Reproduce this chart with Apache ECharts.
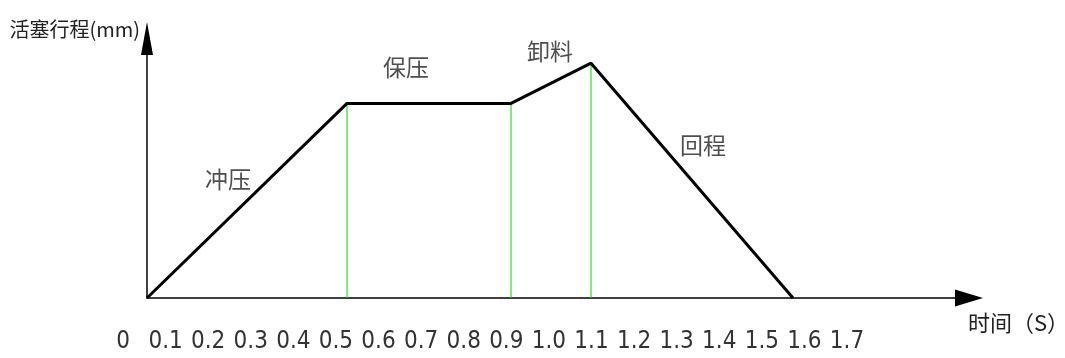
<!DOCTYPE html>
<html><head><meta charset="utf-8">
<script src="https://cdn.jsdelivr.net/npm/echarts@6/dist/echarts.min.js"></script>
<style>html,body{margin:0;padding:0;background:#fff}#c{width:1065px;height:358px}</style>
</head><body><div id="c"></div>
<script>
// ---- data ----
const timeValues = [0, 0.5, 0.91, 1.11, 1.615];      // s
const strokeValues = [0, 150, 150, 181, 0];          // mm (relative)
const phaseNames = ['冲压', '保压', '卸料', '回程'];
const tickLabels = ['0', '0.1', '0.2', '0.3', '0.4', '0.5', '0.6', '0.7', '0.8', '0.9',
                    '1.0', '1.1', '1.2', '1.3', '1.4', '1.5', '1.6', '1.7'];
const guideIndices = [1, 2, 3];
const yAxisTitle = '活塞行程(mm)';
const xAxisTitle = '时间（S）';

// ---- styles ----
const labelOffsets = [[-19, -21], [-23, -36], [-1, -32], [11, -35]];
const guideColor = '#00d800';
const cjkFont = '"Noto Sans CJK SC", "Noto Sans", sans-serif';
const numFont = '"Liberation Sans Narrow", "DejaVu Sans Condensed", "Liberation Sans", sans-serif';

const lineData = timeValues.map((t, i) => [t, strokeValues[i]]);
const phaseData = phaseNames.map((name, i) => ({
  value: [(timeValues[i] + timeValues[i + 1]) / 2, (strokeValues[i] + strokeValues[i + 1]) / 2],
  name: name,
  label: { offset: labelOffsets[i] }
}));
// vertical guides: from the axis up to each phase boundary, separated by gaps
const guideData = [];
guideIndices.forEach(i => {
  guideData.push([timeValues[i], 0], [timeValues[i], strokeValues[i]], '-');
});

const chart = echarts.init(document.getElementById('c'), null, { renderer: 'canvas' });
chart.setOption({
  animation: false,
  backgroundColor: '#fff',
  grid: [
    { left: 147, right: 96, top: 38.5, bottom: 60, containLabel: false, outerBoundsMode: 'none' },
    { left: 123, right: 218, top: 38.5, bottom: 60, containLabel: false, outerBoundsMode: 'none' }
  ],
  xAxis: [
    {
      type: 'value', gridIndex: 0, min: 0, max: 2.055,
      axisLine: { show: true, lineStyle: { color: '#000', width: 1.5 }, symbol: ['none', 'triangle'], symbolSize: [17, 28] },
      axisTick: { show: false }, axisLabel: { show: false }, splitLine: { show: false },
      name: xAxisTitle, nameLocation: 'end', nameGap: -1,
      nameTextStyle: { fontFamily: cjkFont, fontSize: 22, color: '#222', align: 'left', verticalAlign: 'top', lineHeight: 50 }
    },
    {
      type: 'category', gridIndex: 1, data: tickLabels, boundaryGap: false,
      axisLine: { show: false }, axisTick: { show: false }, splitLine: { show: false },
      axisLabel: { interval: 0, margin: 32, fontFamily: numFont, fontSize: 24, color: '#333' }
    }
  ],
  yAxis: [
    {
      type: 'value', gridIndex: 0, min: 0, max: 200,
      axisLine: { show: true, lineStyle: { color: '#000', width: 1.5 }, symbol: ['none', 'triangle'], symbolSize: [12, 33] },
      axisTick: { show: false }, axisLabel: { show: false }, splitLine: { show: false },
      name: yAxisTitle, nameLocation: 'end', nameGap: 9,
      nameTextStyle: { fontFamily: cjkFont, fontSize: 20, color: '#222', align: 'right', verticalAlign: 'middle', padding: [0, 7, 0, 0] }
    },
    { type: 'value', gridIndex: 1, show: false, min: 0, max: 200 }
  ],
  series: [
    {
      type: 'line', xAxisIndex: 0, yAxisIndex: 0, data: guideData,
      showSymbol: false, symbol: 'none', z: 2, silent: true, connectNulls: false,
      lineStyle: { color: guideColor, width: 1 }
    },
    {
      type: 'line', xAxisIndex: 0, yAxisIndex: 0, data: lineData,
      showSymbol: false, symbol: 'none', z: 3,
      lineStyle: { color: '#000', width: 3 }
    },
    {
      type: 'scatter', xAxisIndex: 0, yAxisIndex: 0, data: phaseData,
      symbolSize: 1, itemStyle: { color: 'rgba(0,0,0,0)' }, silent: true,
      label: {
        show: true, position: 'inside', formatter: p => p.name,
        fontFamily: cjkFont, fontSize: 23, color: '#222'
      }
    }
  ]
});
</script></body></html>
